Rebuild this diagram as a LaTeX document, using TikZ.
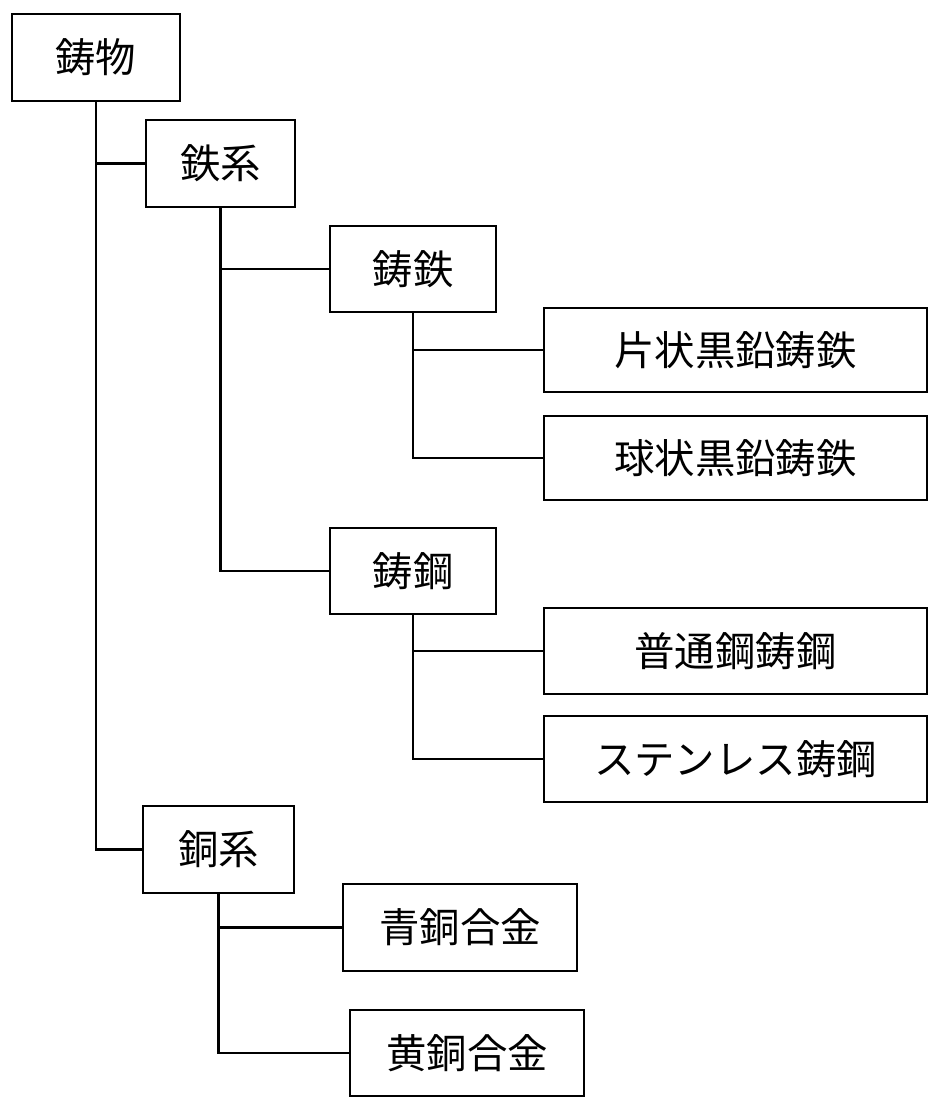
\documentclass[tikz,border=0pt]{standalone}
\usepackage{fontspec}
\newfontfamily\jpfont{Noto Sans CJK JP}
\usetikzlibrary{positioning}
\tikzset{box/.style={draw,line width=1.6pt,inner sep=0pt,font=\jpfont\fontsize{23}{26}\selectfont},
branch/.style={line width=1.6pt}}

\begin{document}
\begin{tikzpicture}[x=0.02cm,y=-0.02cm]
\useasboundingbox (0,0) rectangle (942,1110);
\node[box,minimum width=3.36cm,minimum height=1.74cm](imono) at (96,57.5){鋳物};
\node[box,minimum width=2.98cm,minimum height=1.74cm](tetsukei) at (220.5,163.5){鉄系};
\node[box,minimum width=3.32cm,minimum height=1.72cm](chutetsu) at (413,269){鋳鉄};
\node[box,minimum width=7.66cm,minimum height=1.68cm](henjo) at (735.5,350){片状黒鉛鋳鉄};
\node[box,minimum width=7.66cm,minimum height=1.68cm](kyujo) at (735.5,458){球状黒鉛鋳鉄};
\node[box,minimum width=3.32cm,minimum height=1.72cm](chuko) at (413,571){鋳鋼};
\node[box,minimum width=7.66cm,minimum height=1.72cm](futsu) at (735.5,651){普通鋼鋳鋼};
\node[box,minimum width=7.66cm,minimum height=1.72cm](stainless) at (735.5,759){ステンレス鋳鋼};
\node[box,minimum width=3.02cm,minimum height=1.74cm](dokei) at (218.5,849.5){銅系};
\node[box,minimum width=4.68cm,minimum height=1.74cm](seido) at (460,927.5){青銅合金};
\node[box,minimum width=4.68cm,minimum height=1.72cm](odo) at (467,1053){黄銅合金};

\draw[branch] (imono.south) |- (tetsukei.west);
\draw[branch] (imono.south) |- (dokei.west);
\draw[branch] (tetsukei.south) |- (chutetsu.west);
\draw[branch] (tetsukei.south) |- (chuko.west);
\draw[branch] (chutetsu.south) |- (henjo.west);
\draw[branch] (chutetsu.south) |- (kyujo.west);
\draw[branch] (chuko.south) |- (futsu.west);
\draw[branch] (chuko.south) |- (stainless.west);
\draw[branch] (dokei.south) |- (seido.west);
\draw[branch] (dokei.south) |- (odo.west);
\end{tikzpicture}
\end{document}
